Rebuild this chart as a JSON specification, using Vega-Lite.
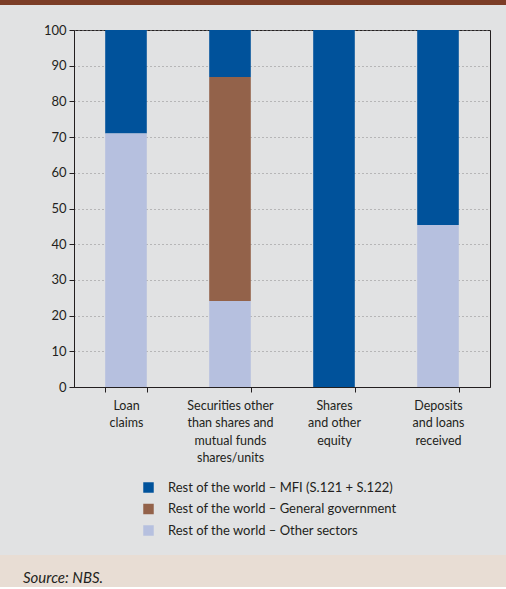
{
  "$schema": "https://vega.github.io/schema/vega-lite/v6.json",
  "background": "#E1E2E3",
  "padding": 0,
  "spacing": 8,
  "config": {"font": "Lato", "view": {"stroke": null}},
  "resolve": {"scale": {"color": "independent"}, "legend": {"color": "independent"}},
  "datasets": {
    "shares": [
      {"instrument": "Loan claims", "sector": "Rest of the world – MFI (S.121 + S.122)", "share": 29},
      {"instrument": "Loan claims", "sector": "Rest of the world – Other sectors", "share": 71},
      {"instrument": "Securities other than shares and mutual funds shares/units", "sector": "Rest of the world – MFI (S.121 + S.122)", "share": 13.2},
      {"instrument": "Securities other than shares and mutual funds shares/units", "sector": "Rest of the world – General government", "share": 62.7},
      {"instrument": "Securities other than shares and mutual funds shares/units", "sector": "Rest of the world – Other sectors", "share": 24.1},
      {"instrument": "Shares and other equity", "sector": "Rest of the world – MFI (S.121 + S.122)", "share": 100},
      {"instrument": "Deposits and loans received", "sector": "Rest of the world – MFI (S.121 + S.122)", "share": 54.6},
      {"instrument": "Deposits and loans received", "sector": "Rest of the world – Other sectors", "share": 45.4}
    ]
  },
  "vconcat": [
    {
      "width": 506,
      "height": 5,
      "data": {"values": []},
      "mark": "rect",
      "view": {"fill": "#7B3D27", "stroke": null}
    },
    {
      "spacing": 0,
      "resolve": {"scale": {"color": "independent"}, "legend": {"color": "independent"}},
      "hconcat": [
        {
          "width": 1,
          "height": 357,
          "data": {"values": []},
          "mark": "rect",
          "view": {"stroke": null}
        },
        {
          "width": 416,
          "height": 357,
          "data": {"name": "shares"},
          "transform": [
            {"calculate": "indexof(['Rest of the world – MFI (S.121 + S.122)', 'Rest of the world – General government', 'Rest of the world – Other sectors'], datum.sector)", "as": "stackOrder"}
          ],
          "view": {"stroke": "#231F20", "strokeWidth": 1},
          "mark": {"type": "bar"},
          "encoding": {
            "x": {
              "field": "instrument",
              "type": "nominal",
              "sort": ["Loan claims", "Securities other than shares and mutual funds shares/units", "Shares and other equity", "Deposits and loans received"],
              "scale": {"paddingInner": 0.6, "paddingOuter": 0.3},
              "axis": {
                "title": null,
                "labelAngle": 0,
                "labelFontSize": 12.5,
                "labelColor": "#231F20",
                "labelLineHeight": 17.5,
                "labelPadding": 7,
                "labelBaseline": "top",
                "labelExpr": "datum.value == 'Loan claims' ? ['Loan', 'claims'] : datum.value == 'Shares and other equity' ? ['Shares', 'and other', 'equity'] : datum.value == 'Deposits and loans received' ? ['Deposits', 'and loans', 'received'] : datum.value == 'Securities other than shares and mutual funds shares/units' ? ['Securities other', 'than shares and', 'mutual funds', 'shares/units'] : ''",
                "tickBand": "extent",
                "tickSize": 5,
                "tickColor": "#231F20",
                "domainColor": "#231F20",
                "labelLimit": 300
              }
            },
            "y": {
              "field": "share",
              "type": "quantitative",
              "stack": "zero",
              "scale": {"domain": [0, 100], "nice": false},
              "axis": {
                "values": [0, 10, 20, 30, 40, 50, 60, 70, 80, 90, 100],
                "title": " ",
                "titleAngle": 0,
                "titleAlign": "left",
                "titleBaseline": "top",
                "titleX": -72,
                "titleY": -16,
                "labelFontSize": 13,
                "labelColor": "#231F20",
                "labelPadding": 3,
                "tickSize": 5,
                "tickColor": "#231F20",
                "domainColor": "#231F20",
                "grid": true,
                "gridColor": "#8A8A8A",
                "gridDash": [1, 3]
              }
            },
            "order": {"field": "stackOrder", "type": "quantitative", "sort": "descending"},
            "color": {
              "field": "sector",
              "type": "nominal",
              "sort": ["Rest of the world – MFI (S.121 + S.122)", "Rest of the world – General government", "Rest of the world – Other sectors"],
              "scale": {
                "domain": ["Rest of the world – MFI (S.121 + S.122)", "Rest of the world – General government", "Rest of the world – Other sectors"],
                "range": ["#00529B", "#93624A", "#B6C0DF"]
              },
              "legend": {
                "orient": "none",
                "legendX": 60,
                "legendY": 443,
                "direction": "vertical",
                "title": null,
                "symbolType": "square",
                "symbolSize": 110,
                "symbolStrokeWidth": 0,
                "labelFontSize": 13,
                "labelColor": "#231F20",
                "labelOffset": 13,
                "rowPadding": 7.5,
                "padding": 8,
                "labelLimit": 400
              }
            }
          }
        }
      ]
    },
    {
      "width": 506,
      "height": 32,
      "data": {"values": []},
      "mark": "rect",
      "view": {"fill": "#E8DDD4", "stroke": null},
      "title": {
        "text": "Source: NBS.",
        "orient": "top",
        "anchor": "start",
        "frame": "group",
        "offset": -31,
        "dx": 23,
        "fontStyle": "italic",
        "fontWeight": "normal",
        "fontSize": 15,
        "color": "#231F20"
      }
    }
  ]
}
